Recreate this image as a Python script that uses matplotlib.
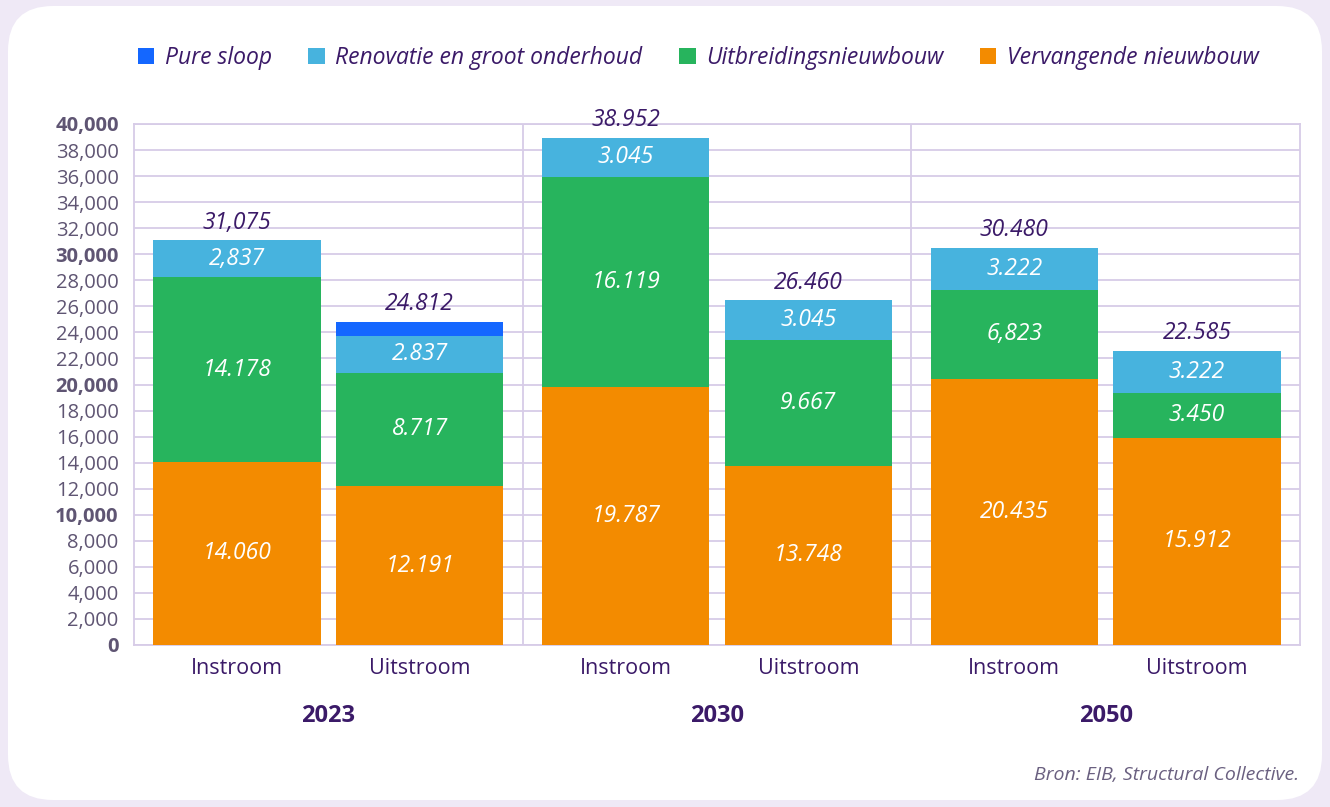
import matplotlib
matplotlib.use('Agg')
import matplotlib.pyplot as plt
from matplotlib.patches import FancyBboxPatch
import numpy as np

# data (values in thousands, labels as printed on the chart)
years = ['2023', '2030', '2050']
bars = ['Instroom', 'Uitstroom']
series = ['Vervangende nieuwbouw', 'Uitbreidingsnieuwbouw',
          'Renovatie en groot onderhoud', 'Pure sloop']

vervangende = [14060, 12191, 19787, 13748, 20435, 15912]
uitbreiding = [14178, 8717, 16119, 9667, 6823, 3450]
renovatie = [2837, 2837, 3045, 3045, 3222, 3222]
pure_sloop = [0, 1067, 0, 0, 0, 0]

vervangende_lbl = ['14.060', '12.191', '19.787', '13.748', '20.435', '15.912']
uitbreiding_lbl = ['14.178', '8.717', '16.119', '9.667', '6,823', '3.450']
renovatie_lbl = ['2,837', '2.837', '3.045', '3.045', '3.222', '3.222']
totals_lbl = ['31,075', '24.812', '38.952', '26.460', '30.480', '22.585']

colors = ['#f38b00', '#27b45d', '#47b3de', '#1467ff']
purple = '#3b1a68'
tickgray = '#5f5573'
gridc = '#d7cce7'

plt.rcParams['font.family'] = ['Open Sans', 'DejaVu Sans']

fig = plt.figure(figsize=(13.3, 8.07), dpi=100)
fig.patch.set_facecolor('#efe9f6')

# white rounded card behind everything
bg = fig.add_axes([0, 0, 1, 1], zorder=-5)
bg.set_xlim(0, 1330)
bg.set_ylim(807, 0)
bg.axis('off')
bg.add_patch(FancyBboxPatch((8, 6), 1314, 794,
                            boxstyle='round,pad=0,rounding_size=45',
                            fc='white', ec='none'))

ax = fig.add_axes([134 / 1330, 1 - 645 / 807, (1300 - 134) / 1330, 521 / 807])
ax.set_facecolor('none')

x = []
for g in range(len(years)):
    x += [g + 0.265, g + 0.735]
x = np.array(x)
width = 0.43

stack = [vervangende, uitbreiding, renovatie, pure_sloop]
stack_lbl = [vervangende_lbl, uitbreiding_lbl, renovatie_lbl, None]
bottom = np.zeros(len(x))
for vals, lbls, col, name in zip(stack, stack_lbl, colors, series):
    vals = np.array(vals, dtype=float)
    ax.bar(x, vals, width, bottom=bottom, color=col, label=name, zorder=3)
    if lbls is not None:
        for xi, b, v, t in zip(x, bottom, vals, lbls):
            ax.text(xi, b + v / 2, t, ha='center', va='center', color='white',
                    fontsize=16.5, style='italic', zorder=4)
    bottom = bottom + vals

for xi, top, t in zip(x, bottom, totals_lbl):
    ax.annotate(t, (xi, top), xytext=(0, 4), textcoords='offset points',
                ha='center', va='bottom', color=purple, fontsize=16.5,
                style='italic', zorder=4)

ax.set_xlim(0, 3)
ax.set_ylim(0, 40000)
ax.set_yticks(np.arange(0, 40001, 2000))
ax.set_yticklabels([f'{v:,}' for v in range(0, 40001, 2000)])
for lab, v in zip(ax.get_yticklabels(), range(0, 40001, 2000)):
    if v % 10000 == 0:
        lab.set_fontweight('bold')
ax.tick_params(axis='y', length=0, pad=11, labelsize=14.5, labelcolor=tickgray)
ax.set_xticks([])
ax.grid(axis='y', color=gridc, lw=1.3, zorder=0)
for xv in [1, 2]:
    ax.axvline(xv, color=gridc, lw=1.3, zorder=0)
for s in ax.spines.values():
    s.set_color(gridc)
    s.set_linewidth(1.3)

tr = ax.get_xaxis_transform()
for xi, i in zip(x, range(len(x))):
    ax.text(xi, -0.046, bars[i % 2], transform=tr, ha='center', va='center',
            color=purple, fontsize=15.5)
for g, yr in enumerate(years):
    ax.text(g + 0.5, -0.136, yr, transform=tr, ha='center', va='center',
            color=purple, fontsize=17, fontweight='bold')

handles, labels = ax.get_legend_handles_labels()
leg = fig.legend(handles[::-1], labels[::-1], loc='center',
                 bbox_to_anchor=(0.525, 1 - 58 / 807), ncol=4, frameon=False,
                 handlelength=0.72, handleheight=0.72, handletextpad=0.45,
                 columnspacing=1.6, prop={'size': 16.5, 'style': 'italic'})
for t in leg.get_texts():
    t.set_color(purple)

fig.text(1299 / 1330, 1 - 775 / 807, 'Bron: EIB, Structural Collective.',
         ha='right', va='center', color='#6a6080', fontsize=14,
         style='italic')

fig.savefig('out.png', dpi=100, facecolor=fig.get_facecolor())
